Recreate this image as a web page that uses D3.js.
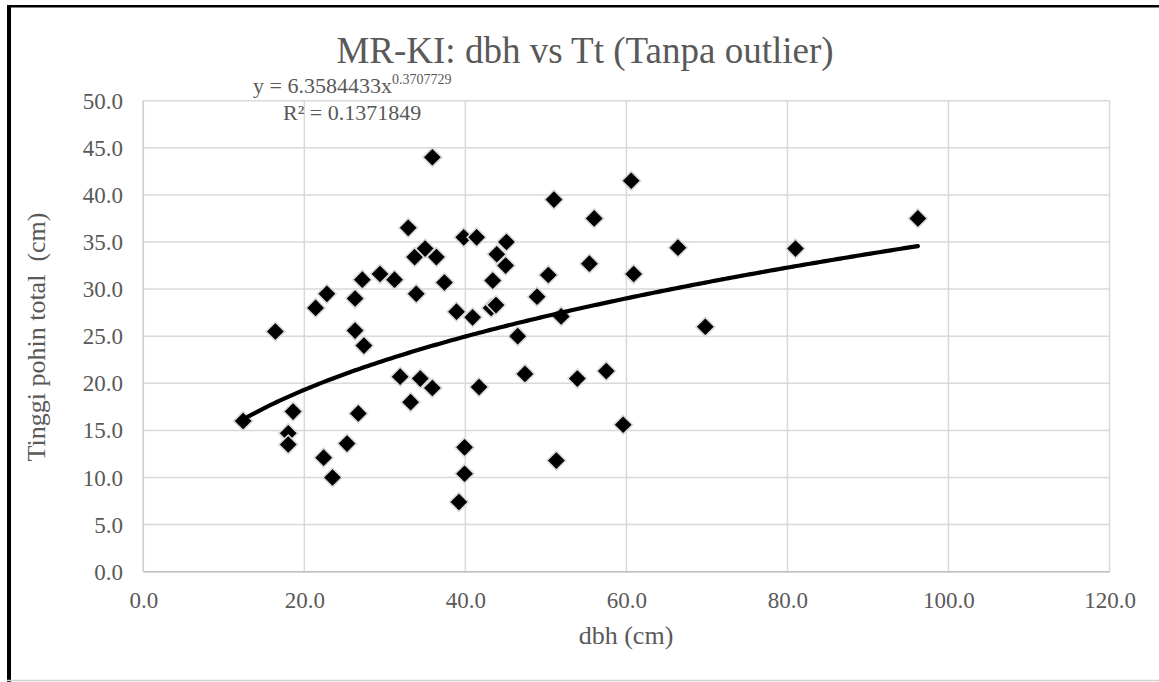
<!DOCTYPE html>
<html>
<head>
<meta charset="utf-8">
<script src="https://cdn.jsdelivr.net/npm/d3@7"></script>
<style>
  html, body { margin: 0; padding: 0; background: #fff; }
  svg { display: block; }
  text { font-family: "Liberation Serif", "Times New Roman", serif; fill: #595959; }
</style>
</head>
<body>
<svg id="chart" width="1159" height="682"></svg>
<script>
// dbh (cm) of each measured tree
const dbh = [
  12.4, 16.4, 18.0, 18.0, 18.6, 21.4, 22.4, 22.8, 23.5, 25.3,
  26.3, 26.3, 26.7, 27.2, 27.4, 29.4, 31.2, 31.9, 32.9, 33.2,
  33.7, 33.9, 34.4, 35.0, 35.9, 35.9, 36.4, 37.4, 38.9, 39.2,
  39.8, 39.9, 39.9, 40.9, 41.4, 41.7, 43.2, 43.4, 43.8, 43.9,
  45.0, 45.1, 46.5, 47.4, 48.9, 50.3, 51.0, 51.3, 51.9, 53.9,
  55.4, 56.0, 57.5, 59.6, 60.6, 60.9, 66.4, 69.8, 81.0, 96.2
];
// Total height (Tinggi pohon total) of the same trees
const tinggi = [
  16.0, 25.5, 14.7, 13.5, 17.0, 28.0, 12.1, 29.5, 10.0, 13.6,
  29.0, 25.6, 16.8, 31.0, 24.0, 31.6, 31.0, 20.7, 36.5, 18.0,
  33.4, 29.5, 20.5, 34.3, 44.0, 19.5, 33.4, 30.7, 27.6, 7.4,
  35.5, 13.2, 10.4, 27.0, 35.5, 19.6, 28.0, 30.9, 28.3, 33.7,
  32.5, 35.0, 25.0, 21.0, 29.2, 31.5, 39.5, 11.8, 27.1, 20.5,
  32.7, 37.5, 21.3, 15.6, 41.5, 31.6, 34.4, 26.0, 34.3, 37.5
];

// Power trendline y = a * x^b
const trendA = 6.3584433;
const trendB = 0.3707729;
const trendR2 = 0.1371849;

const xTicks = [0, 20, 40, 60, 80, 100, 120];
const yTicks = [0, 5, 10, 15, 20, 25, 30, 35, 40, 45, 50];

const titleText = "MR-KI: dbh vs Tt (Tanpa outlier)";
const xTitle = "dbh (cm)";
const yTitle = "Tinggi pohin total\u00a0 (cm)";

const svg = d3.select("#chart");
const W = 1159, H = 682;

// Outer frame
svg.append("rect").attr("x", 0).attr("y", 0).attr("width", W).attr("height", H).attr("fill", "#fff");
svg.append("rect").attr("x", 7).attr("y", 5).attr("width", W - 7).attr("height", 2.5).attr("fill", "#000");
svg.append("rect").attr("x", 7).attr("y", 5).attr("width", 4).attr("height", H - 5).attr("fill", "#000");
svg.append("line").attr("x1", 7).attr("x2", W).attr("y1", 680.5).attr("y2", 680.5)
  .attr("stroke", "#d0d0d0").attr("stroke-width", 1.5);

// Plot area
const plot = { left: 143.3, right: 1109.5, top: 100.7, bottom: 571.7 };
const x = d3.scaleLinear().domain([0, 120]).range([plot.left, plot.right]);
const y = d3.scaleLinear().domain([0, 50]).range([plot.bottom, plot.top]);

// Gridlines
const grid = svg.append("g");
grid.selectAll("line.h").data(yTicks).join("line")
  .attr("x1", plot.left).attr("x2", plot.right)
  .attr("y1", d => y(d)).attr("y2", d => y(d))
  .attr("stroke", "#d9d9d9").attr("stroke-width", 1.5);
grid.selectAll("line.v").data(xTicks).join("line")
  .attr("x1", d => x(d)).attr("x2", d => x(d))
  .attr("y1", plot.top).attr("y2", plot.bottom)
  .attr("stroke", "#d9d9d9").attr("stroke-width", 1.5);
// Axis baselines
svg.append("line").attr("x1", plot.left).attr("x2", plot.right)
  .attr("y1", plot.bottom).attr("y2", plot.bottom)
  .attr("stroke", "#bfbfbf").attr("stroke-width", 1.5);
svg.append("line").attr("x1", plot.left).attr("x2", plot.left)
  .attr("y1", plot.top).attr("y2", plot.bottom)
  .attr("stroke", "#cfcfcf").attr("stroke-width", 1.5);

// Axes (labels only)
const fmt = d3.format(".1f");
const xAxis = svg.append("g")
  .attr("transform", `translate(0,${plot.bottom})`)
  .call(d3.axisBottom(x).tickValues(xTicks).tickFormat(fmt).tickSize(0).tickPadding(0));
xAxis.select(".domain").remove();
xAxis.selectAll("text")
  .attr("y", 36.5).attr("dy", null)
  .style("font-family", "'Liberation Serif', serif").style("font-size", "23px").attr("fill", "#595959");

const yAxis = svg.append("g")
  .attr("transform", `translate(123,0)`)
  .call(d3.axisLeft(y).tickValues(yTicks).tickFormat(fmt).tickSize(0).tickPadding(0));
yAxis.select(".domain").remove();
yAxis.selectAll("text")
  .attr("x", 0).attr("dy", "0.33em")
  .style("font-family", "'Liberation Serif', serif").style("font-size", "23px").attr("fill", "#595959");

// Markers: black diamonds with a light outline
const side = 13.4;
svg.append("g").selectAll("rect").data(dbh.map((d, i) => [d, tinggi[i]])).join("rect")
  .attr("x", -side / 2).attr("y", -side / 2)
  .attr("width", side).attr("height", side)
  .attr("transform", d => `translate(${x(d[0])},${y(d[1])}) rotate(45)`)
  .attr("fill", "#000").attr("stroke", "#d9d9d9").attr("stroke-width", 1.6);

// Trendline over the data range
const xMin = d3.min(dbh), xMax = d3.max(dbh);
const trendX = d3.range(0, 201).map(i => xMin + (xMax - xMin) * i / 200);
const line = d3.line().x(d => x(d)).y(d => y(trendA * Math.pow(d, trendB)));
svg.append("path").datum(trendX).attr("d", line)
  .attr("fill", "none").attr("stroke", "#000").attr("stroke-width", 4.2)
  .attr("stroke-linecap", "round").attr("stroke-linejoin", "round");

// Title
svg.append("text").attr("x", 585).attr("y", 63).attr("text-anchor", "middle")
  .style("font-size", "37px").text(titleText);

// Trendline equation and R²
const eq = svg.append("text").attr("x", 253).attr("y", 93).style("font-size", "22px");
eq.append("tspan").text(`y = ${trendA.toFixed(7)}x`);
eq.append("tspan").attr("dy", -9).style("font-size", "14px").text(trendB.toFixed(7));
svg.append("text").attr("x", 283).attr("y", 120).style("font-size", "22px")
  .text(`R\u00b2 = ${trendR2.toFixed(7)}`);

// Axis titles
svg.append("text").attr("x", 626).attr("y", 644).attr("text-anchor", "middle")
  .style("font-size", "26px").text(xTitle);
svg.append("text").attr("transform", "translate(45,337) rotate(-90)").attr("text-anchor", "middle")
  .style("font-size", "26px").text(yTitle);
</script>
</body>
</html>
